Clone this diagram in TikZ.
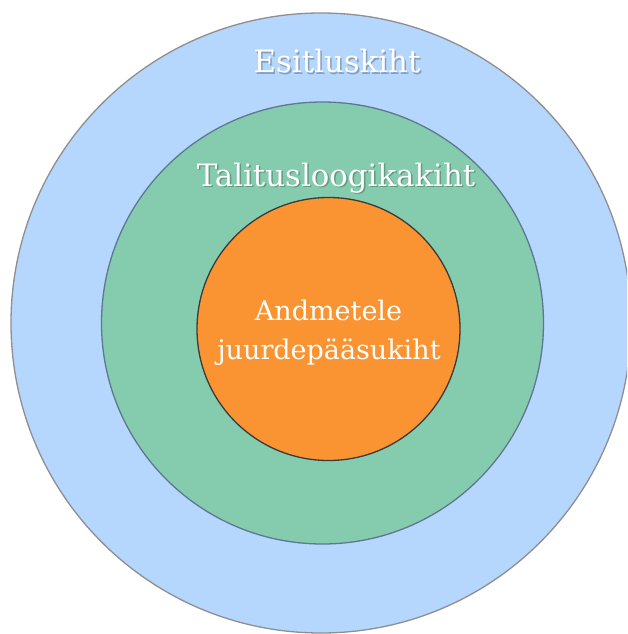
\documentclass[tikz,border=0pt]{standalone}
\usepackage{fontspec}
\setmainfont{DejaVu Serif}
\definecolor{layerblue}{HTML}{B5D6FD}
\definecolor{layergreen}{HTML}{85CCAE}
\definecolor{layerorange}{HTML}{FA9432}
\definecolor{rimgray}{HTML}{8F8F8F}
\definecolor{rimslate}{HTML}{5E7892}
\definecolor{rimdark}{HTML}{3A3A3A}
\begin{document}
\begin{tikzpicture}[x=1pt,y=-1pt,
  ring/.style={circle, inner sep=0pt, line width=1.3pt},
  label/.style={anchor=base, text=white, inner sep=0pt},
  shade/.style={anchor=base, text=black, opacity=0.25, inner sep=0pt},
  big/.style={font=\fontsize{30.8}{36}\selectfont},
  small/.style={font=\fontsize{27}{32}\selectfont}]
  \useasboundingbox (0,0) rectangle (627,634);
  \clip (0,0) rectangle (627,634);

  % the three nested layers
  \node[ring, draw=rimgray, fill=layerblue, minimum size=620pt] (outer) at (321,323) {};
  \node[ring, draw=rimslate, fill=layergreen, minimum size=442pt] (middle) at (322.5,323) {};
  \node[ring, draw=rimdark, fill=layerorange, minimum size=263pt] (inner) at (328.5,329) {};

  % layer names with a soft drop shadow
  \node[shade, big] (s1) at (338.5,74.5) {Esitluskiht};
  \node[label, big] (t1) at (337,73) {Esitluskiht};
  \node[shade, big] (s2) at (337.5,187.5) {Talitusloogikakiht};
  \node[label, big] (t2) at (336,186) {Talitusloogikakiht};
  \node[label, small] (t3) at (328.5,320) {Andmetele};
  \node[label, small] (t4) at (329,359) {juurdepääsukiht};
\end{tikzpicture}
\end{document}
